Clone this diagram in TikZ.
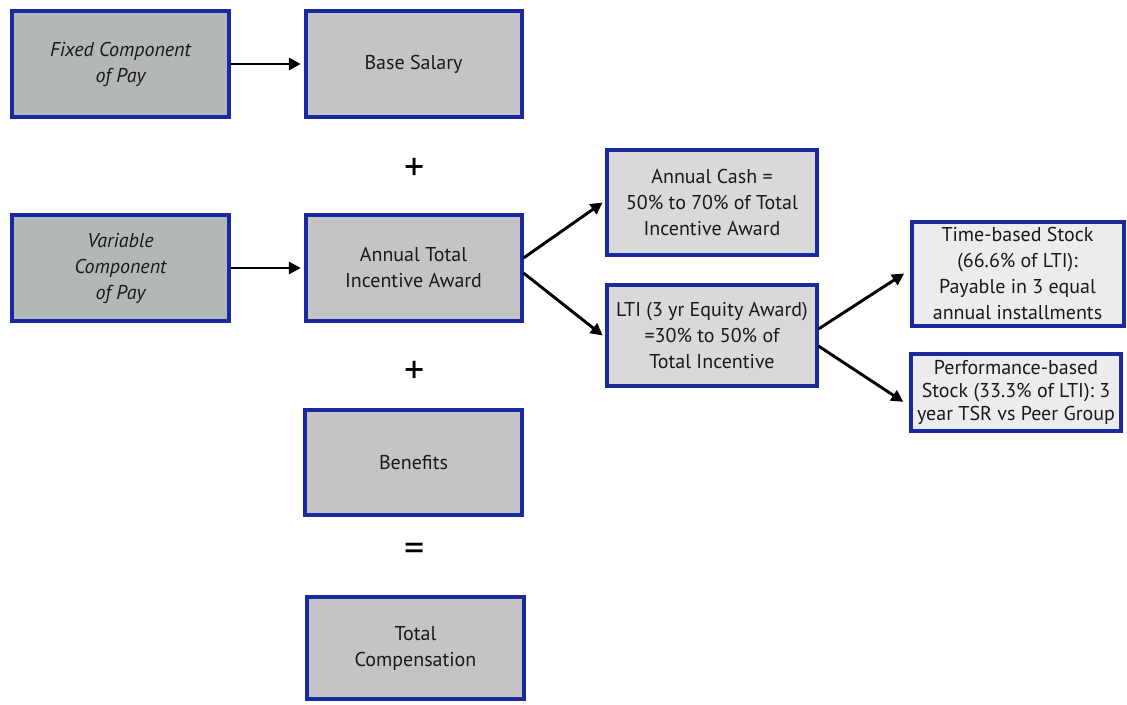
\documentclass[tikz,border=0pt]{standalone}
\usepackage{fontspec}
\setmainfont{PT Sans}
\usepackage{tikz}
\usetikzlibrary{arrows.meta}
\usepackage{xcolor}
\definecolor{boxblue}{HTML}{1A2A9E}
\definecolor{graydark}{HTML}{B4B7B7}
\definecolor{graymid}{HTML}{C4C4C6}
\definecolor{graylight}{HTML}{D9D9DA}
\definecolor{graypale}{HTML}{ECECEE}
\tikzstyle{arrow} = [line width=2.2pt,-{Triangle[length=9pt,width=9pt]}]

\begin{document}
\begin{tikzpicture}[x=0.75pt, y=-0.75pt,
		region/.style={
			rectangle,
			draw=boxblue,
			line width=3pt,
			font=\fontsize{15}{19.5}\selectfont,
			text=black!90,
			align=center,
			inner sep=0pt},
		sign/.style={font=\fontsize{30}{30}\selectfont, inner sep=0pt}]

		\useasboundingbox (0,0) rectangle (1127,704);

		% left column
		\node (fixed) [region, fill=graydark, minimum width=163pt, minimum height=79pt] at (120.5,64) {\itshape Fixed Component \\ \itshape of Pay};
		\node (variable) [region, fill=graydark, minimum width=163pt, minimum height=80pt] at (120.5,268) {\itshape Variable \\ \itshape Component \\ \itshape of Pay};

		% middle column
		\node (salary) [region, fill=graymid, minimum width=162pt, minimum height=79pt] at (413.5,64) {Base Salary};
		\node (annual) [region, fill=graymid, minimum width=162pt, minimum height=80pt] at (413.5,268) {Annual Total \\ Incentive Award};
		\node (benefits) [region, fill=graymid, minimum width=163pt, minimum height=79pt] at (413.5,462.5) {Benefits};
		\node (total) [region, fill=graymid, minimum width=163pt, minimum height=77pt] at (415.5,648) {Total \\ Compensation};

		\node (plusa) [sign] at (415,169) {+};
		\node (plusb) [sign] at (415,372) {+};
		\node (equals) [sign] at (415,552) {=};

		% incentive split
		\node (cash) [region, fill=graylight, minimum width=157pt, minimum height=79pt] at (712,202.5) {Annual Cash = \\ 50\% to 70\% of Total \\ Incentive Award};
		\node (lti) [region, fill=graylight, minimum width=157pt, minimum height=76pt] at (712,335.5) {LTI (3 yr Equity Award) \\ =30\% to 50\% of \\ Total Incentive};

		% LTI split
		\node (timestock) [region, fill=graypale, minimum width=159pt, minimum height=78pt] at (1017.5,273.5) {Time-based Stock \\ (66.6\% of LTI): \\ Payable in 3 equal \\ annual installments};
		\node (perfstock) [region, fill=graypale, minimum width=158pt, minimum height=58pt, font=\fontsize{15}{17.5}\selectfont] at (1016,392.5) {Performance-based \\ Stock (33.3\% of LTI): 3 \\ year TSR vs Peer Group};

		\draw[arrow] (fixed.east) -- ([xshift=-2pt]salary.west);
		\draw[arrow] (variable.east) -- ([xshift=-2pt]annual.west);
		\draw[arrow] ([yshift=7.5pt]annual.east) -- ([xshift=-2pt]cash.west);
		\draw[arrow] ([yshift=-3.75pt]annual.east) -- ([xshift=-2pt]lti.west);
		\draw[arrow] ([yshift=5pt]lti.east) -- ([xshift=-4pt]timestock.west);
		\draw[arrow] ([yshift=-8pt]lti.east) -- ([xshift=-4pt,yshift=-7pt]perfstock.west);
	\end{tikzpicture}
\end{document}
